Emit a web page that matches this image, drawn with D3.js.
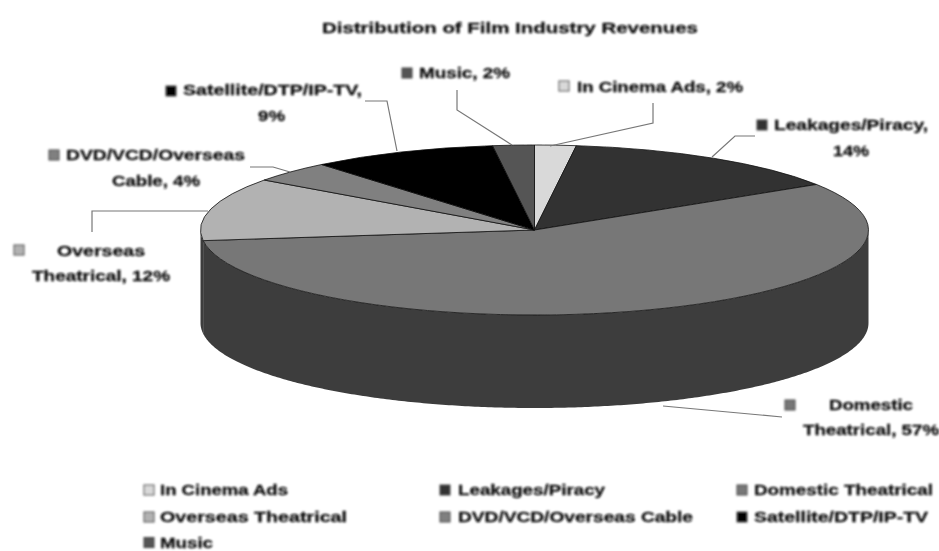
<!DOCTYPE html>
<html>
<head>
<meta charset="utf-8">
<script src="https://cdn.jsdelivr.net/npm/d3@7"></script>
<style>
  html, body { margin: 0; padding: 0; background: #fff; }
  svg { display: block; }
  text { font-family: "Liberation Sans", Arial, sans-serif; font-weight: bold; fill: #111; stroke: #111; stroke-width: 0.3; }
</style>
</head>
<body>
<div id="chart"></div>
<script>
const title = 'Distribution of Film Industry Revenues';
const categories = ['In Cinema Ads', 'Leakages/Piracy', 'Domestic Theatrical', 'Overseas Theatrical', 'DVD/VCD/Overseas Cable', 'Satellite/DTP/IP-TV', 'Music'];
const values = [2, 14, 57, 12, 4, 9, 2];
const colors = ['#d9d9d9', '#333333', '#777777', '#b2b2b2', '#808080', '#000000', '#555555'];
const sideColor = '#3d3d3d';

const w = 939, h = 551;
const cx = 534.5, cy = 230, rx = 334, ry = 85, depth = 93;

// label layout: where each line of the data label sits, in the order of categories
// lines are [x start, x end, baseline]
const labelLayout = [
  { marker: [559, 86], lines: [[577, 743, 92]], brk: null },
  { marker: [757, 125], lines: [[774, 928, 130], [833, 869, 156]], brk: 16 },
  { marker: [785, 405], lines: [[829, 913, 410], [803, 939, 435]], brk: 8 },
  { marker: [14, 250], lines: [[57, 145, 256], [32, 170, 281]], brk: 8 },
  { marker: [49, 155], lines: [[66, 245, 160], [112, 200, 186]], brk: 16 },
  { marker: [166, 91], lines: [[183, 362, 95], [258, 285, 121]], brk: 20 },
  { marker: [402, 73], lines: [[419, 510, 78]], brk: null }
];
const leaders = [
  [[653, 103], [653, 123], [550, 146]],
  [[755, 136], [735, 136], [712, 157]],
  [[663, 406], [782, 417]],
  [[92, 232], [92, 211], [208, 211]],
  [[250, 167], [273, 167], [290, 172]],
  [[365, 101], [387, 101], [397, 151]],
  [[457, 90], [457, 110], [512, 145]]
];
const legendX = [144, 440, 737];
const legendY = [490, 517, 542.5];
// [x start, x end] of each legend entry
const legendText = [[160, 288], [458, 605], [754, 933], [160, 347], [458, 693], [754, 928], [160, 213]];

const svg = d3.select('#chart')
  .append('svg')
  .attr('width', w)
  .attr('height', h);

const defs = svg.append('defs');
const addBlur = (id, amount) => defs.append('filter')
  .attr('id', id)
  .attr('filterUnits', 'userSpaceOnUse')
  .attr('x', 0).attr('y', 0).attr('width', w).attr('height', h)
  .append('feGaussianBlur')
  .attr('stdDeviation', amount);
addBlur('softShape', 0.5);
addBlur('softText', 0.85);

const shapes = svg.append('g').attr('filter', 'url(#softShape)');
const markers = svg.append('g').attr('filter', 'url(#softText)');
const labels = svg.append('g').attr('filter', 'url(#softText)');

const fitText = (x0, x1, y, size, str) => labels.append('text')
  .attr('x', x0)
  .attr('y', y)
  .attr('font-size', size)
  .attr('textLength', x1 - x0)
  .attr('lengthAdjust', 'spacingAndGlyphs')
  .text(str);

const marker = (x, y, i) => markers.append('rect')
  .attr('x', x).attr('y', y - 5)
  .attr('width', 10).attr('height', 10)
  .attr('fill', colors[i])
  .attr('stroke', '#444')
  .attr('stroke-width', 1);

fitText(322, 698, 33, 15.5, title);

const pie = d3.pie().sort(null)(values);
const arc = d3.arc().innerRadius(0).outerRadius(rx);

// side wall: only the rim that faces the viewer, angle 0 is at 12 o'clock
const front = pie.filter(d => d.endAngle > Math.PI / 2 && d.startAngle < 3 * Math.PI / 2);
const rim = a => [cx + rx * Math.sin(a), cy - ry * Math.cos(a)];
front.forEach(d => {
  const a0 = Math.max(d.startAngle, Math.PI / 2);
  const a1 = Math.min(d.endAngle, 3 * Math.PI / 2);
  const rimPts = d3.range(a0, a1, 0.01).concat([a1]).map(rim);
  const pts = rimPts.concat(rimPts.slice().reverse().map(p => [p[0], p[1] + depth]));
  shapes.append('path')
    .attr('d', d3.line()(pts) + 'Z')
    .attr('fill', sideColor);
});

// top face
shapes.append('g')
  .attr('transform', `translate(${cx},${cy}) scale(1,${ry / rx})`)
  .selectAll('path')
  .data(pie)
  .enter()
  .append('path')
  .attr('d', arc)
  .attr('fill', (d, i) => colors[i])
  .attr('stroke', '#111')
  .attr('stroke-width', 0.8)
  .attr('vector-effect', 'non-scaling-stroke');

// leader lines
shapes.append('g')
  .selectAll('path')
  .data(leaders)
  .enter()
  .append('path')
  .attr('d', d3.line())
  .attr('fill', 'none')
  .attr('stroke', '#777')
  .attr('stroke-width', 1.2);

// data labels
categories.forEach((c, i) => {
  const full = `${c}, ${values[i]}%`;
  const l = labelLayout[i];
  marker(l.marker[0], l.marker[1], i);
  const parts = l.brk ? [full.slice(0, l.brk).trim(), full.slice(l.brk).trim()] : [full];
  parts.forEach((p, j) => fitText(l.lines[j][0], l.lines[j][1], l.lines[j][2], 14.5, p));
});

// legend
categories.forEach((c, i) => {
  const col = i % 3, row = Math.floor(i / 3);
  marker(legendX[col], legendY[row], i);
  fitText(legendText[i][0], legendText[i][1], legendY[row] + 5, 14.5, c);
});
</script>
</body>
</html>
